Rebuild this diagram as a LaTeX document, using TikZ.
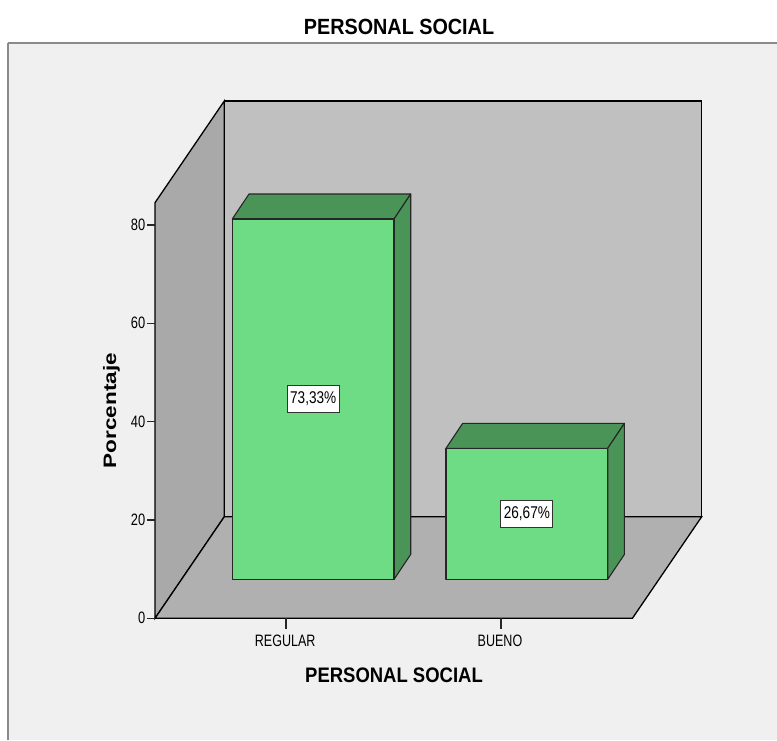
\documentclass[tikz,border=0pt]{standalone}
\usepackage{fontspec}
\usepackage{graphicx}
\setmainfont{Liberation Sans}
\definecolor{framebg}{HTML}{F0F0F0}
\definecolor{backwall}{HTML}{C0C0C0}
\definecolor{sidewall}{HTML}{A9A9A9}
\definecolor{floorcol}{HTML}{B0B0B0}
\definecolor{barfront}{RGB}{110,220,133}
\definecolor{bardark}{RGB}{74,148,88}
\definecolor{framegray}{HTML}{8A8A8A}
\tikzset{
  wall/.style={draw=black, line width=1.3pt, line join=miter},
  barface/.style={draw=black!85, line width=1.1pt, line join=round},
  ticktext/.style={inner sep=0pt, font=\fontsize{16.5}{16.5}\selectfont},
  valbox/.style={draw=black!80, fill=white, line width=0.9pt, inner sep=0pt,
    minimum width=52pt, minimum height=27.5pt, font=\fontsize{17}{17}\selectfont},
  tickline/.style={line width=1.2pt, draw=black!85},
}
\begin{document}
\begin{tikzpicture}[x=1pt,y=-1pt]
\useasboundingbox (0,0) rectangle (777,740);
\fill[white] (0,0) rectangle (777,740);
% frame
\fill[framebg] (8,43) rectangle (777,740);
\draw[framegray, line width=2pt] (8,43) -- (777,43);
\draw[framegray, line width=1.3pt] (8,43) -- (8,740);
% title
\node[inner sep=0pt, font=\fontsize{22}{22}\selectfont\bfseries] (title) at (399,26.7) {\scalebox{0.9}[1]{PERSONAL SOCIAL}};
% walls
\filldraw[wall, fill=backwall] (224.3,101) -- (701.7,101) -- (701.7,516.7) -- (224.3,516.7) -- cycle;
\filldraw[wall, fill=sidewall] (155,202.7) -- (224.3,101) -- (224.3,516.7) -- (155,618.3) -- cycle;
\filldraw[wall, fill=floorcol] (155,618.3) -- (224.3,516.7) -- (701.7,516.7) -- (632.4,618.3) -- cycle;
% bar 1 (REGULAR, 73.33)
\filldraw[barface, fill=bardark] (232.3,219) -- (249,194) -- (410.7,194) -- (394,219) -- cycle;
\filldraw[barface, fill=bardark] (394,219) -- (410.7,194) -- (410.7,554.4) -- (394,579.4) -- cycle;
\filldraw[barface, fill=barfront] (232.3,219) rectangle (394,579.4);
% bar 2 (BUENO, 26.67)
\filldraw[barface, fill=bardark] (446,448.3) -- (462.7,423.3) -- (624.4,423.3) -- (607.7,448.3) -- cycle;
\filldraw[barface, fill=bardark] (607.7,448.3) -- (624.4,423.3) -- (624.4,554.4) -- (607.7,579.4) -- cycle;
\filldraw[barface, fill=barfront] (446,448.3) rectangle (607.7,579.4);
% value labels
\node[valbox] (v1) at (313.2,399) {\scalebox{0.8}[1]{73,33\%}};
\node[valbox] (v2) at (526.9,514) {\scalebox{0.8}[1]{26,67\%}};
% y axis ticks
\foreach \v/\yy in {0/618.3,20/520,40/421.7,60/323.3,80/225}{
  \draw[tickline] (147,\yy) -- (155,\yy);
  \node[ticktext, anchor=east] (yl\v) at (145.5,\yy) {\scalebox{0.78}[1]{\v}};
}
% x axis ticks
\draw[tickline] (286,618.3) -- (286,629);
\draw[tickline] (501,618.3) -- (501,629);
\node[ticktext] (c1) at (285.2,640.5) {\scalebox{0.76}[1]{REGULAR}};
\node[ticktext] (c2) at (500,640.8) {\scalebox{0.76}[1]{BUENO}};
% axis titles
\node[inner sep=0pt, font=\fontsize{21}{21}\selectfont\bfseries] (xt) at (394,675) {\scalebox{0.88}[1]{PERSONAL SOCIAL}};
\node[inner sep=0pt, rotate=90, anchor=base, font=\fontsize{18}{18}\selectfont\bfseries] (yt) at (116,410.5) {\scalebox{1.25}[1]{Porcentaje}};
\end{tikzpicture}
\end{document}
